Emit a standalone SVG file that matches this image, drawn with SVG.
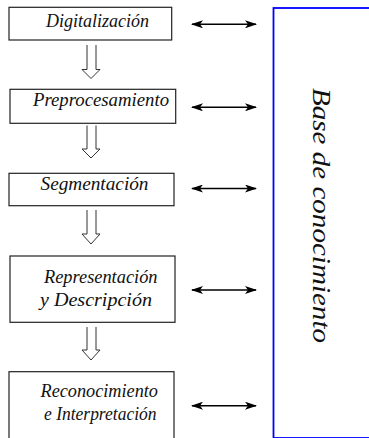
<svg xmlns="http://www.w3.org/2000/svg" width="369" height="438" viewBox="0 0 369 438">
<style>
.box{fill:#fff;stroke:#222;stroke-width:1.2}
.lbl{font-family:"Liberation Serif","Times New Roman",serif;font-style:italic;font-size:18.5px;fill:#111}
.flow{fill:#fff;stroke:#333;stroke-width:1}
.link{stroke:#000;stroke-width:1.4;fill:none}
</style>
<defs>
<marker id="ah" viewBox="0 0 12 8" refX="11" refY="4" markerWidth="12" markerHeight="8" markerUnits="userSpaceOnUse" orient="auto-start-reverse">
<path d="M0,0 L12,4 L0,8 L3,4 Z" fill="#000"/>
</marker>
</defs>
<rect width="369" height="438" fill="#fff"/>
<g id="kb">
<rect x="273.5" y="8" width="200" height="430" fill="#fff" stroke="#0000ff" stroke-width="1.8"/>
<text class="lbl" transform="translate(313,88) rotate(90)" style="font-size:24.5px" textLength="255" lengthAdjust="spacingAndGlyphs">Base de conocimiento</text>
</g>
<g id="n1">
<rect class="box" x="9" y="7.3" width="162.7" height="32.7"/>
<text class="lbl" x="46" y="27" textLength="103" lengthAdjust="spacingAndGlyphs">Digitalización</text>
</g>
<g id="n2">
<rect class="box" x="10" y="89.3" width="165.7" height="34"/>
<text class="lbl" x="33" y="106" textLength="136" lengthAdjust="spacingAndGlyphs">Preprocesamiento</text>
</g>
<g id="n3">
<rect class="box" x="9" y="173.3" width="165" height="32.4"/>
<text class="lbl" x="40.5" y="189.5" textLength="108" lengthAdjust="spacingAndGlyphs">Segmentación</text>
</g>
<g id="n4">
<rect class="box" x="10" y="256" width="165" height="66.3"/>
<text class="lbl" x="44" y="283" textLength="113.5" lengthAdjust="spacingAndGlyphs">Representación</text>
<text class="lbl" x="40" y="306" textLength="112" lengthAdjust="spacingAndGlyphs">y Descripción</text>
</g>
<g id="n5">
<rect class="box" x="9" y="371.7" width="165" height="75"/>
<text class="lbl" x="40.5" y="397" textLength="117.5" lengthAdjust="spacingAndGlyphs">Reconocimiento</text>
<text class="lbl" x="44" y="419.5" textLength="112.5" lengthAdjust="spacingAndGlyphs">e Interpretación</text>
</g>
<g id="connectors">
<path class="flow" d="M87,45 V69.5 H82 L91,78.5 L100,69.5 H96 V45"/>
<path class="flow" d="M87,125.5 V149 H82 L91,158 L100,149 H96 V125.5"/>
<path class="flow" d="M87,210 V234 H82 L91,244 L100,234 H96 V210"/>
<path class="flow" d="M87,327 V350 H82 L91,360 L100,350 H96 V327"/>
<line class="link" x1="192" y1="24.3" x2="256" y2="24.3" marker-start="url(#ah)" marker-end="url(#ah)"/>
<line class="link" x1="192" y1="107.3" x2="256" y2="107.3" marker-start="url(#ah)" marker-end="url(#ah)"/>
<line class="link" x1="192" y1="188.5" x2="256" y2="188.5" marker-start="url(#ah)" marker-end="url(#ah)"/>
<line class="link" x1="192" y1="290" x2="256" y2="290" marker-start="url(#ah)" marker-end="url(#ah)"/>
<line class="link" x1="192" y1="405.7" x2="256" y2="405.7" marker-start="url(#ah)" marker-end="url(#ah)"/>
</g>
</svg>
